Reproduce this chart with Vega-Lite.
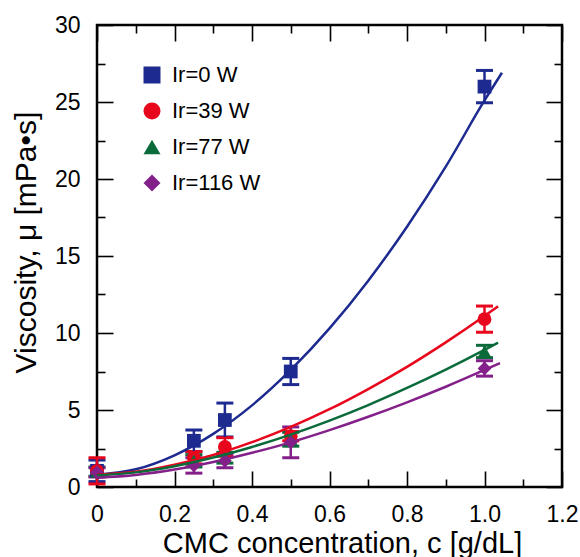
{
  "$schema": "https://vega.github.io/schema/vega-lite/v6.json",
  "width": 465,
  "height": 462,
  "autosize": "none",
  "padding": {"left": 97, "top": 25, "right": 18, "bottom": 70},
  "config": {
    "view": {"stroke": "black", "strokeWidth": 2.5},
    "font": "Liberation Sans",
    "axis": {"domain": false, "grid": false, "tickColor": "black", "tickWidth": 1.6, "labelColor": "black", "titleColor": "black", "labelFont": "Liberation Sans", "titleFont": "Liberation Sans", "titleFontWeight": "normal", "labelFlush": false, "labelOverlap": false}
  },
  "datasets": {
    "pts": [
      {"c": 0, "mu": 1.05, "err": 0.7, "s": "Ir=0 W"},
      {"c": 0.25, "mu": 3.0, "err": 0.7, "s": "Ir=0 W"},
      {"c": 0.33, "mu": 4.35, "err": 1.1, "s": "Ir=0 W"},
      {"c": 0.5, "mu": 7.5, "err": 0.85, "s": "Ir=0 W"},
      {"c": 1.0, "mu": 26.0, "err": 1.05, "s": "Ir=0 W"},
      {"c": 0, "mu": 1.05, "err": 0.85, "s": "Ir=39 W"},
      {"c": 0.25, "mu": 1.9, "err": 0.4, "s": "Ir=39 W"},
      {"c": 0.33, "mu": 2.6, "err": 0.6, "s": "Ir=39 W"},
      {"c": 0.5, "mu": 3.3, "err": 0.3, "s": "Ir=39 W"},
      {"c": 1.0, "mu": 10.9, "err": 0.85, "s": "Ir=39 W"},
      {"c": 0, "mu": 1.0, "err": 0.3, "s": "Ir=77 W"},
      {"c": 0.25, "mu": 1.7, "err": 0.4, "s": "Ir=77 W"},
      {"c": 0.33, "mu": 1.9, "err": 0.35, "s": "Ir=77 W"},
      {"c": 0.5, "mu": 3.1, "err": 0.45, "s": "Ir=77 W"},
      {"c": 1.0, "mu": 8.8, "err": 0.4, "s": "Ir=77 W"},
      {"c": 0, "mu": 0.95, "err": 0.3, "s": "Ir=116 W"},
      {"c": 0.25, "mu": 1.4, "err": 0.5, "s": "Ir=116 W"},
      {"c": 0.33, "mu": 1.7, "err": 0.45, "s": "Ir=116 W"},
      {"c": 0.5, "mu": 2.9, "err": 1.0, "s": "Ir=116 W"},
      {"c": 1.0, "mu": 7.7, "err": 0.5, "s": "Ir=116 W"}
    ],
    "fit": [
      {"c": 0, "mu": 0.8, "s": "Ir=0 W"},
      {"c": 0.1, "mu": 1.15, "s": "Ir=0 W"},
      {"c": 0.2, "mu": 2.06, "s": "Ir=0 W"},
      {"c": 0.3, "mu": 3.45, "s": "Ir=0 W"},
      {"c": 0.4, "mu": 5.3, "s": "Ir=0 W"},
      {"c": 0.5, "mu": 7.6, "s": "Ir=0 W"},
      {"c": 0.6, "mu": 10.3, "s": "Ir=0 W"},
      {"c": 0.7, "mu": 13.4, "s": "Ir=0 W"},
      {"c": 0.8, "mu": 16.9, "s": "Ir=0 W"},
      {"c": 0.9, "mu": 20.8, "s": "Ir=0 W"},
      {"c": 1.0, "mu": 25.1, "s": "Ir=0 W"},
      {"c": 1.045, "mu": 26.9, "s": "Ir=0 W"},
      {"c": 0, "mu": 0.8, "s": "Ir=39 W"},
      {"c": 0.1, "mu": 0.99, "s": "Ir=39 W"},
      {"c": 0.2, "mu": 1.44, "s": "Ir=39 W"},
      {"c": 0.3, "mu": 2.08, "s": "Ir=39 W"},
      {"c": 0.4, "mu": 2.91, "s": "Ir=39 W"},
      {"c": 0.5, "mu": 3.9, "s": "Ir=39 W"},
      {"c": 0.6, "mu": 5.05, "s": "Ir=39 W"},
      {"c": 0.7, "mu": 6.36, "s": "Ir=39 W"},
      {"c": 0.8, "mu": 7.8, "s": "Ir=39 W"},
      {"c": 0.9, "mu": 9.39, "s": "Ir=39 W"},
      {"c": 1.0, "mu": 11.1, "s": "Ir=39 W"},
      {"c": 1.035, "mu": 11.73, "s": "Ir=39 W"},
      {"c": 0, "mu": 0.75, "s": "Ir=77 W"},
      {"c": 0.1, "mu": 0.95, "s": "Ir=77 W"},
      {"c": 0.2, "mu": 1.35, "s": "Ir=77 W"},
      {"c": 0.3, "mu": 1.91, "s": "Ir=77 W"},
      {"c": 0.4, "mu": 2.6, "s": "Ir=77 W"},
      {"c": 0.5, "mu": 3.4, "s": "Ir=77 W"},
      {"c": 0.6, "mu": 4.31, "s": "Ir=77 W"},
      {"c": 0.7, "mu": 5.32, "s": "Ir=77 W"},
      {"c": 0.8, "mu": 6.43, "s": "Ir=77 W"},
      {"c": 0.9, "mu": 7.62, "s": "Ir=77 W"},
      {"c": 1.0, "mu": 8.9, "s": "Ir=77 W"},
      {"c": 1.035, "mu": 9.37, "s": "Ir=77 W"},
      {"c": 0, "mu": 0.6, "s": "Ir=116 W"},
      {"c": 0.1, "mu": 0.78, "s": "Ir=116 W"},
      {"c": 0.2, "mu": 1.13, "s": "Ir=116 W"},
      {"c": 0.3, "mu": 1.62, "s": "Ir=116 W"},
      {"c": 0.4, "mu": 2.22, "s": "Ir=116 W"},
      {"c": 0.5, "mu": 2.9, "s": "Ir=116 W"},
      {"c": 0.6, "mu": 3.69, "s": "Ir=116 W"},
      {"c": 0.7, "mu": 4.56, "s": "Ir=116 W"},
      {"c": 0.8, "mu": 5.5, "s": "Ir=116 W"},
      {"c": 0.9, "mu": 6.51, "s": "Ir=116 W"},
      {"c": 1.0, "mu": 7.6, "s": "Ir=116 W"},
      {"c": 1.04, "mu": 8.05, "s": "Ir=116 W"}
    ]
  },
  "resolve": {"axis": {"x": "independent", "y": "independent"}, "legend": {"color": "independent", "shape": "independent"}},
  "layer": [
    {
      "data": {"name": "pts"},
      "mark": {"type": "errorbar", "ticks": {"size": 17, "thickness": 3, "opacity": 1}, "rule": {"strokeWidth": 2.5, "opacity": 1}},
      "encoding": {
        "x": {"field": "c", "type": "quantitative", "scale": {"domain": [0, 1.2], "nice": false}, "axis": null},
        "y": {"field": "mu", "type": "quantitative", "scale": {"domain": [0, 30], "nice": false}, "axis": null},
        "yError": {"field": "err"},
        "color": {"field": "s", "type": "nominal", "legend": null, "scale": {"domain": ["Ir=0 W", "Ir=39 W", "Ir=77 W", "Ir=116 W"], "range": ["#1d2a8f", "#e8061c", "#0b6a3a", "#84208a"]}}
      }
    },
    {
      "data": {"name": "pts"},
      "mark": {"type": "point", "filled": true, "opacity": 1, "size": 190},
      "encoding": {
        "x": {"field": "c", "type": "quantitative", "scale": {"domain": [0, 1.2], "nice": false},
          "axis": {"orient": "top", "values": [0, 0.1, 0.2, 0.3, 0.4, 0.5, 0.6, 0.7, 0.8, 0.9, 1.0, 1.1, 1.2], "labels": false, "title": null,
            "tickSize": {"condition": {"test": "abs(datum.value*5 - round(datum.value*5)) < 0.001", "value": -16}, "value": -8}}},
        "y": {"field": "mu", "type": "quantitative", "scale": {"domain": [0, 30], "nice": false},
          "axis": {"orient": "right", "values": [0, 2.5, 5, 7.5, 10, 12.5, 15, 17.5, 20, 22.5, 25, 27.5, 30], "labels": false, "title": null,
            "tickSize": {"condition": {"test": "datum.value % 5 === 0", "value": -16}, "value": -8}}},
        "color": {"field": "s", "type": "nominal", "scale": {"domain": ["Ir=0 W", "Ir=39 W", "Ir=77 W", "Ir=116 W"], "range": ["#1d2a8f", "#e8061c", "#0b6a3a", "#84208a"]},
          "legend": {"orient": "none", "legendX": 44, "legendY": 39, "title": null, "labelFontSize": 22, "labelFont": "Liberation Sans", "labelColor": "black", "symbolSize": 289, "rowPadding": 14, "labelOffset": 9, "padding": 0, "symbolStrokeWidth": 0, "symbolOpacity": 1}},
        "shape": {"field": "s", "type": "nominal", "scale": {"domain": ["Ir=0 W", "Ir=39 W", "Ir=77 W", "Ir=116 W"], "range": ["square", "circle", "triangle-up", "diamond"]},
          "legend": {"orient": "none", "legendX": 44, "legendY": 39, "title": null, "labelFontSize": 22, "labelFont": "Liberation Sans", "labelColor": "black", "symbolSize": 289, "rowPadding": 14, "labelOffset": 9, "padding": 0, "symbolStrokeWidth": 0, "symbolOpacity": 1}}
      }
    },
    {
      "data": {"name": "fit"},
      "mark": {"type": "line", "interpolate": "monotone", "strokeWidth": 2.5},
      "encoding": {
        "x": {"field": "c", "type": "quantitative", "scale": {"domain": [0, 1.2], "nice": false},
          "axis": {"orient": "bottom", "values": [0, 0.1, 0.2, 0.3, 0.4, 0.5, 0.6, 0.7, 0.8, 0.9, 1.0, 1.1, 1.2],
            "tickSize": {"condition": {"test": "abs(datum.value*5 - round(datum.value*5)) < 0.001", "value": -16}, "value": -8},
            "labelExpr": "abs(datum.value*5 - round(datum.value*5)) < 0.001 ? (datum.value == 0 ? '0' : format(datum.value, '.1f')) : ''",
            "labelPadding": 32, "labelFontSize": 23,
            "title": "CMC concentration, c [g/dL]", "titleFontSize": 29, "titleX": 245, "titleY": 65, "titleBaseline": "alphabetic", "titleAlign": "center"}},
        "y": {"field": "mu", "type": "quantitative", "scale": {"domain": [0, 30], "nice": false},
          "axis": {"orient": "left", "values": [0, 2.5, 5, 7.5, 10, 12.5, 15, 17.5, 20, 22.5, 25, 27.5, 30],
            "tickSize": {"condition": {"test": "datum.value % 5 === 0", "value": -16}, "value": -8},
            "labelExpr": "datum.value % 5 === 0 ? datum.label : ''",
            "labelPadding": 33, "labelFontSize": 23,
            "title": "Viscosity, μ [mPa•s]", "titleFontSize": 30, "titleAngle": -90, "titleX": -62, "titleY": 217, "titleBaseline": "alphabetic", "titleAlign": "center"}},
        "color": {"field": "s", "type": "nominal", "legend": null, "scale": {"domain": ["Ir=0 W", "Ir=39 W", "Ir=77 W", "Ir=116 W"], "range": ["#1d2a8f", "#e8061c", "#0b6a3a", "#84208a"]}},
        "detail": {"field": "s"}
      }
    }
  ]
}
